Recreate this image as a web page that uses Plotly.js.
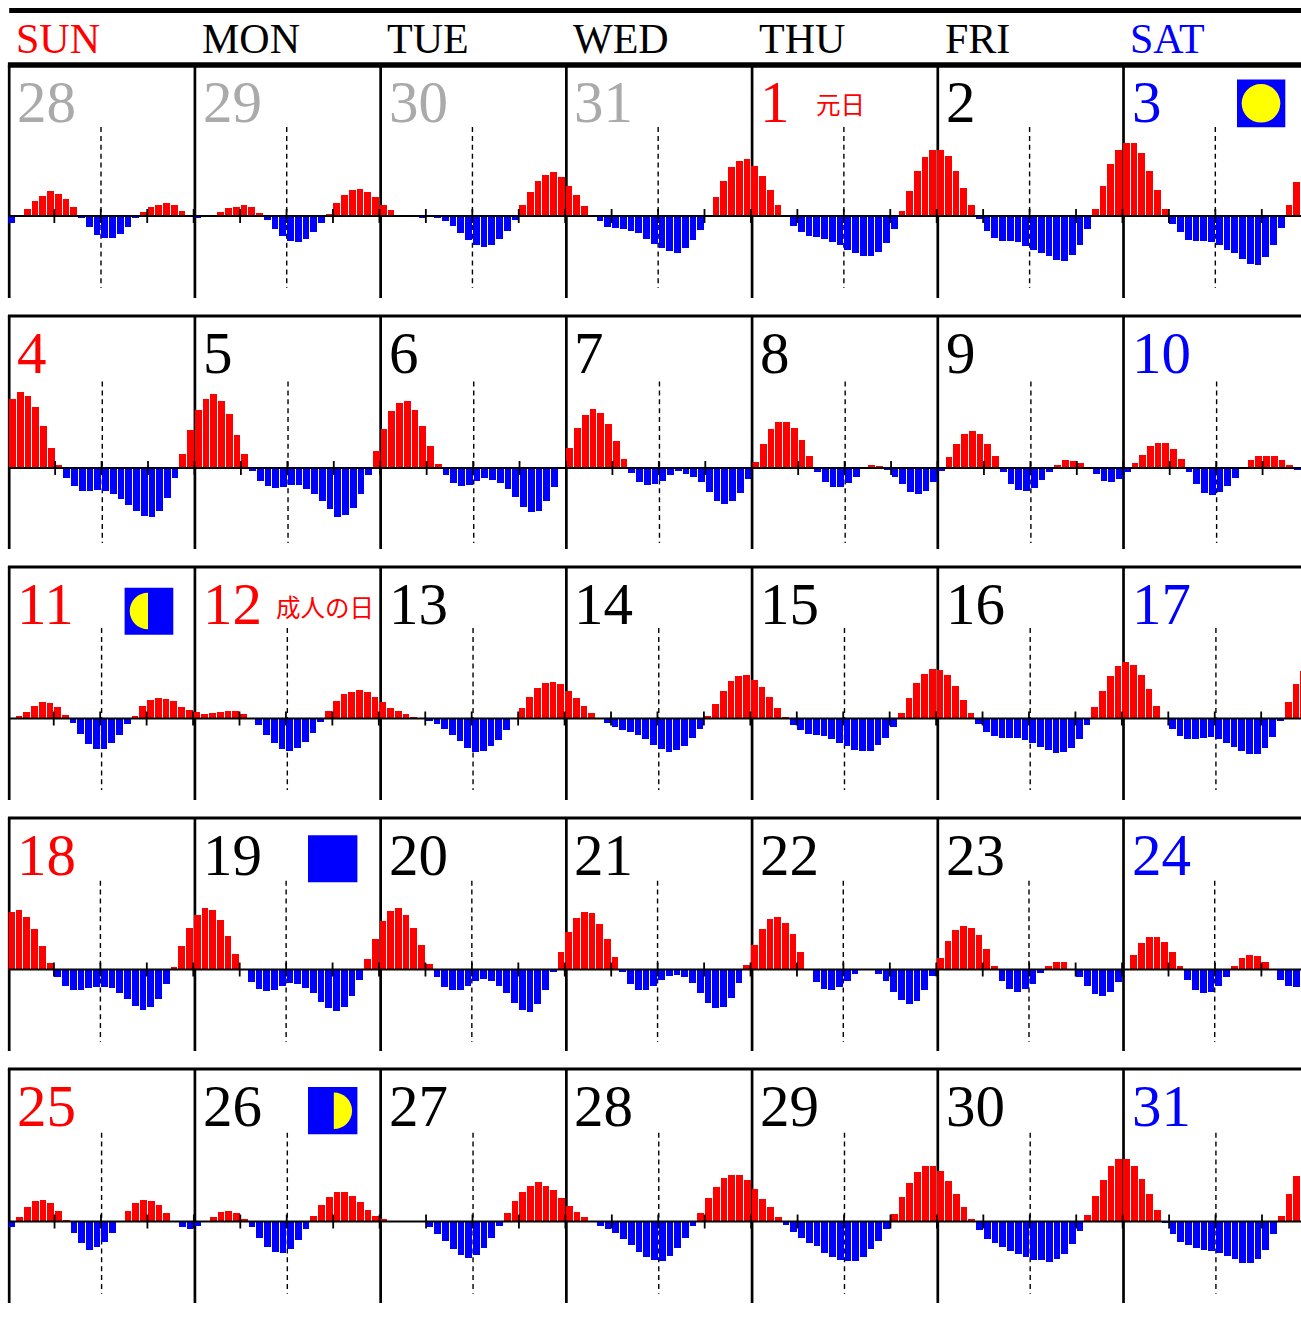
<!DOCTYPE html>
<html>
<head>
<meta charset="utf-8">
<script src="https://cdn.plot.ly/plotly-3.0.1.min.js"></script>
<style>html,body{margin:0;padding:0;background:#fff}#chart{width:1301px;height:1317px}</style>
</head>
<body>
<div id="chart"></div>
<script>
// ---------- data: hourly tide level, one value per hour, one array per calendar row ----------
var week1 = [
 -7,0,7,14.7,20,24.7,22.3,16.7,9,-1.5,-11,-19,-22,-22,-17.7,-11,-2.3,4,9.3,11.3,12.7,10.7,5,0.5,
 -2,-1,0.5,4,7.7,9.3,10.7,8.7,3.3,-4,-12.7,-20,-24.7,-26,-22.7,-16,-7,2.3,13.3,21.3,26.3,27.3,24.3,18.7,
 11.3,6,0,0,-1,-2,-1,-2,-5,-10.3,-17,-24.3,-29,-31,-28.7,-23,-14.7,-3.7,10.7,23.7,34.7,41.3,43.7,39,
 30.3,20.7,10,1.3,-5,-10.7,-11.7,-12.7,-15,-17,-22.7,-28.3,-32.3,-35.3,-36.7,-32.3,-24.3,-13.7,1.3,18.7,35.3,49.3,54.7,56.7,
 50.3,39.7,25.7,11.3,0,-10,-16.3,-19.7,-21,-23,-26,-29.3,-33.7,-37,-40.3,-40.3,-36,-27,-13,5.3,25,45.3,58.7,66.3,
 66.3,59.7,45.3,28.3,10.7,-3,-15.3,-21.7,-25,-25,-26.3,-30.3,-34,-37.3,-40.3,-43.7,-45,-39.3,-28.7,-13.3,7.3,30,51.7,65.7,
 72.7,72.7,62.7,45.3,25.7,7.3,-7.7,-16.3,-24,-25,-25,-26.3,-29.3,-33.7,-37,-42.7,-48,-49,-41.3,-29.3,-12,10.7,34.3,55];
var week2 = [
 69,75.7,72.3,60.7,42,20,3,-10,-17.7,-23.3,-23.3,-22,-23.3,-26.3,-30.7,-36.7,-43,-48.3,-49.3,-43,-29.7,-10,13.7,37.7,
 58,69,74.3,66.7,54,33,13.7,-2.7,-12.7,-18.3,-20.3,-19,-17,-17,-21.3,-26,-33.3,-41,-48.7,-47.3,-40,-26,-6.7,16.7,
 39.3,56.7,65,66.7,58,41.7,22,4.3,-7.3,-15,-18.3,-17.3,-13,-9.7,-12,-15.3,-20.7,-29,-39,-44.3,-43.3,-33.3,-19.3,0,
 20,40.3,53.3,59,55.3,44.3,27,8.7,-5.3,-14,-17.3,-16.3,-13,-6.7,-3,-5.7,-8.7,-14,-24,-32.7,-35.7,-33.3,-25,-11,
 5.7,23.7,39,46.3,46.3,40,28,12,-4.3,-14,-18.7,-18.7,-15.3,-8.7,-1,3,2,-2,-8.7,-16.3,-23.7,-26,-22.7,-14,
 -3,11,24,34,37,34,24,12,-4,-16,-21.7,-22.7,-19.7,-12,-4.3,3,7.7,6.7,4.7,0,-6.3,-13,-14,-11,
 -4,4.7,13,22,25,25,19,9,-4,-16,-25,-27,-24,-18,-10,0,8,12,12,12,8,3,-1.5,0];
var week3 = [
 0,2.3,7,12.3,16.7,15.7,11.3,4,-4.7,-15.7,-25.3,-30,-30,-24.3,-16.7,-5.7,3,13,18.3,20.3,19.3,17.3,12,8.3,
 6.3,5,5.3,6.3,7.3,7.3,4.3,0,-6.7,-16.7,-24,-30.7,-32.7,-29.7,-23,-14.3,-3.7,7.3,17.3,24.3,27,28.3,26.3,21.7,
 16.3,11,7.7,4.3,1.3,0,-2,-5,-10.7,-16.3,-22.7,-29.3,-33.3,-32.3,-27.7,-21.3,-11.7,0,10.3,21.3,31,35.3,36.3,34.3,
 28,20.3,13,6,0,-4.7,-8,-11,-13.7,-16.7,-20.7,-26,-30.7,-33,-31.7,-27.3,-19.7,-10.7,2.3,15,28,37.7,43,44,
 39,31.3,22,11,1.3,-6.3,-11.3,-15,-16.3,-17,-20.7,-24,-27.7,-31.7,-32.7,-32.7,-26.7,-19.7,-8.3,5.3,21,36,44.7,50,
 49,44,33,18.7,5.7,-5,-13.7,-17,-19,-19,-19,-21.7,-24.7,-28,-31.3,-34.3,-33.3,-29,-20.3,-6.3,11.3,27.3,42.7,52.3,
 56.7,53.3,43.3,29.3,13,-0.5,-10.7,-17.3,-20.7,-20.7,-19.7,-18.3,-20.7,-24,-28.3,-32.3,-35.7,-35.7,-29.3,-18.3,-2,16.3,35,48];
var week4 = [
 58,59.3,52.3,40.3,24,7,-7.3,-16,-20.3,-20.7,-18.7,-17.3,-17.7,-18.3,-23,-29.7,-36.3,-40.7,-37.3,-29.7,-14.3,3,23.7,42,
 55,61.3,59.3,49.7,33.3,16,0,-12.7,-19,-21.3,-20.3,-16.3,-13.7,-14.7,-18,-23.3,-32,-38.3,-41.7,-37.7,-26.7,-10.3,10.7,30.3,
 48.7,58.3,62,55,42,24.7,6,-7.7,-17,-20.3,-20.3,-16.7,-11.7,-9.3,-11.7,-16,-23.7,-33.3,-40,-42,-34.7,-20.3,-2.7,18,
 37.3,51.7,58,57,46,31,12.3,-2.7,-14.7,-20.3,-20.3,-16.7,-10.7,-6,-5,-7.3,-13.7,-23.7,-33.3,-38.7,-37.7,-28.7,-13.7,5,
 24.3,40.7,50.3,52.3,47,35.3,17.3,0,-12.7,-19.3,-20.3,-17.3,-11.7,-4,0,1,-4,-11.7,-22.7,-30,-34.3,-31.3,-20.3,-6.3,
 11.3,28.7,40,44,41.3,34.3,20.3,4,-11.7,-19.3,-22.3,-19.7,-14,-3.7,4,7.3,7.3,0,-7,-16.7,-24.7,-26.7,-22.7,-12.7,
 0,15,26.3,33,33,27.3,18,4,-10.7,-20.7,-23.7,-22,-16.7,-7,4,11.3,15,13.3,7.3,0,-10,-16.3,-17,-12];
var week5 = [
 -5.3,4.3,14.3,20.7,21.7,18.7,10.7,1.3,-11.7,-21.7,-28,-25.7,-20.3,-11.7,0,10.7,18.7,21.7,20.7,16.3,8.7,0,-5.3,-7.3,
 -4.3,0,4.7,9.7,11,8.7,2.3,-5.3,-16,-25,-30,-31.3,-27,-18.3,-7,5.7,16.7,24.3,29.7,29.7,25.7,19.3,11.7,5.3,
 3,1,1,1,1,0,-5.3,-12.3,-19.3,-27.3,-33,-36,-33.7,-26.3,-16.3,-4.3,8.7,20.7,29.7,35.7,39.3,35.7,31.7,23.3,
 15.7,10,4.7,0,-4,-7.3,-11.7,-17.3,-23.7,-30.3,-35.3,-38,-39,-34.3,-26.7,-16,-4,9,23.3,35,44,47,47,41.7,
 33,23,14.7,4.7,-3.7,-10.3,-16,-21.3,-24.3,-31,-35.3,-38.3,-39.7,-39.7,-35.3,-27.7,-19,-7,8,24.3,38.3,49.3,56,56,
 50.3,40.7,27.7,14.3,2.7,-8,-17,-21.3,-25.3,-29.3,-32.3,-35.3,-38,-38,-40,-37.7,-32.3,-22.7,-9.7,6.7,25.3,41.7,55.7,62.3,
 62.3,55.7,42.7,27.7,11.7,-1,-12.7,-20,-23.7,-26,-28,-29,-31.3,-34.3,-37.7,-41,-41,-37,-28,-12.7,6,27.3,45.7,55];
var weeks = [week1, week2, week3, week4, week5];

var dayNames = ["SUN","MON","TUE","WED","THU","FRI","SAT"];
var dates = [
 ["28","29","30","31","1","2","3"],
 ["4","5","6","7","8","9","10"],
 ["11","12","13","14","15","16","17"],
 ["18","19","20","21","22","23","24"],
 ["25","26","27","28","29","30","31"]];
var holidays = [{row:0,col:4,text:"元日",cx:840,cy:103.5},{row:2,col:1,text:"成人の日",cx:324.5,cy:606}];

// ---------- layout constants (pixels) ----------
var W = 1301, H = 1317;
var HOUR = 7.74, DAY = 185.72;
var rowTop   = [65, 316, 567, 818, 1069];
var rowBase  = [216, 468, 718.5, 969.5, 1221.5];
var rowBot   = [298, 549, 800, 1051, 1303];
var rowX0    = [7.9, 8.7, 7.3, 7.5, 8.1];
var noonX    = [101, 102.3, 101.6, 100.4, 101.6];
var noonTop  = [127, 381.5, 628, 880.7, 1132.7];
var noonBot  = [288, 543, 790, 1041.7, 1293.7];
var gridX0   = 9.2, plotLeft = 8.6;
var RED = "#ff0000", BLUE = "#0000ff", YELLOW = "#ffff00", GREY = "#aaaaaa";
var SERIF = "'Liberation Serif','Times New Roman',serif";
var CJK = "'Noto Sans CJK JP',sans-serif";
var numSize = 59, headSize = 42;

function px(x){ return x / W; }
function py(y){ return 1 - y / H; }

var traces = [], shapes = [], annotations = [];
var layout = {
  width: W, height: H, margin:{l:0,r:0,t:0,b:0,pad:0},
  paper_bgcolor:"#fff", plot_bgcolor:"rgba(0,0,0,0)",
  showlegend:false, bargap:0, hovermode:false
};

function pline(x0,y0,x1,y1,w,dash,layer){
  shapes.push({type:"line",xref:"paper",yref:"paper",x0:px(x0),x1:px(x1),y0:py(y0),y1:py(y1),
    line:{color:"#000",width:w,dash:dash||"solid"},layer:layer||"below"});
}

weeks.forEach(function(vals,r){
  var sfx = r===0 ? "" : String(r+1);
  layout["xaxis"+sfx] = {domain:[px(plotLeft),1],range:[(plotLeft-rowX0[r])/HOUR,(W-rowX0[r])/HOUR],visible:false,fixedrange:true,anchor:"y"+sfx};
  layout["yaxis"+sfx] = {domain:[py(rowBot[r]),py(rowTop[r])],
    range:[-(rowBot[r]-rowBase[r]),rowBase[r]-rowTop[r]],visible:false,fixedrange:true,anchor:"x"+sfx};
  traces.push({type:"bar",xaxis:"x"+sfx,yaxis:"y"+sfx,
    x:vals.map(function(v,i){return i+0.5;}),y:vals,width:0.87,
    marker:{color:vals.map(function(v){return v>=0?RED:BLUE;}),line:{width:0}},hoverinfo:"skip"});

  // frame
  if(r>0) pline(gridX0-1.3,rowTop[r],W,rowTop[r],2.8);
  for(var c=0;c<7;c++){
    var lx = gridX0+DAY*c;
    pline(lx,rowTop[r],lx,rowBot[r],2.7);
    pline(noonX[r]+DAY*c,noonTop[r],noonX[r]+DAY*c,noonBot[r],1.4,"5px,3.9px");
  }
  // baseline and 6-hour ticks, on the row's own axes
  shapes.push({type:"line",xref:"x"+sfx,yref:"y"+sfx,x0:(plotLeft-rowX0[r])/HOUR,x1:170,y0:0,y1:0,line:{color:"#000",width:1.8},layer:"above"});
  for(var h=6;h<=168;h+=6){
    shapes.push({type:"line",xref:"x"+sfx,yref:"y"+sfx,x0:h,x1:h,y0:-7,y1:7,line:{color:"#000",width:1.8},layer:"above"});
  }
  // date numbers
  dates[r].forEach(function(d,c){
    var color = c===0?RED:(c===6?BLUE:"#000");
    if(d==="1"&&r===0) color = RED;
    if(d==="12") color = RED;
    if(r===0&&c<4) color = GREY;
    annotations.push({xref:"paper",yref:"paper",x:px(15.3+DAY*c),y:py(rowTop[r]+57-0.34*numSize),
      xanchor:"left",yanchor:"middle",showarrow:false,text:d,font:{family:SERIF,size:numSize,color:color}});
  });
});

// heavy header rules
pline(gridX0,10.5,W,10.5,5);
pline(gridX0-1.3,65,W,65,5.5);
dayNames.forEach(function(n,c){
  annotations.push({xref:"paper",yref:"paper",x:px(14+DAY*c),y:py(53.5-0.34*headSize),xanchor:"left",yanchor:"middle",
    showarrow:false,text:n,font:{family:SERIF,size:headSize,color:c===0?RED:(c===6?BLUE:"#000")}});
});
holidays.forEach(function(o){
  annotations.push({xref:"paper",yref:"paper",x:px(o.cx),y:py(o.cy),xanchor:"center",yanchor:"middle",showarrow:false,
    text:o.text,font:{family:CJK,size:24.5,color:RED}});
});

// moon phase icons
function moonBox(x0,y0,x1,y1){
  shapes.push({type:"rect",xref:"paper",yref:"paper",x0:px(x0),x1:px(x1),y0:py(y0),y1:py(y1),
    fillcolor:BLUE,line:{width:0},layer:"above"});
}
function halfMoon(cx,cy,r,dir){
  var k = 0.5523*r;
  var p = "M "+px(cx)+" "+py(cy-r)+
    " C "+px(cx+dir*k)+" "+py(cy-r)+" "+px(cx+dir*r)+" "+py(cy-k)+" "+px(cx+dir*r)+" "+py(cy)+
    " C "+px(cx+dir*r)+" "+py(cy+k)+" "+px(cx+dir*k)+" "+py(cy+r)+" "+px(cx)+" "+py(cy+r)+" Z";
  shapes.push({type:"path",xref:"paper",yref:"paper",path:p,fillcolor:YELLOW,line:{width:0},layer:"above"});
}
moonBox(1237,79.5,1285.3,127.3);
shapes.push({type:"circle",xref:"paper",yref:"paper",x0:px(1261-19.3),x1:px(1261+19.3),y0:py(103.3-19.3),y1:py(103.3+19.3),
  fillcolor:YELLOW,line:{width:0},layer:"above"});
moonBox(124.6,587.7,173.3,634.7);
halfMoon(148,611,18.3,-1);
moonBox(308,835.3,357.4,882.3);
moonBox(308,1087,357.4,1134.3);
halfMoon(333.8,1110.7,18.3,1);

layout.shapes = shapes;
layout.annotations = annotations;
Plotly.newPlot("chart",traces,layout,{displayModeBar:false,staticPlot:true});
</script>
</body>
</html>
